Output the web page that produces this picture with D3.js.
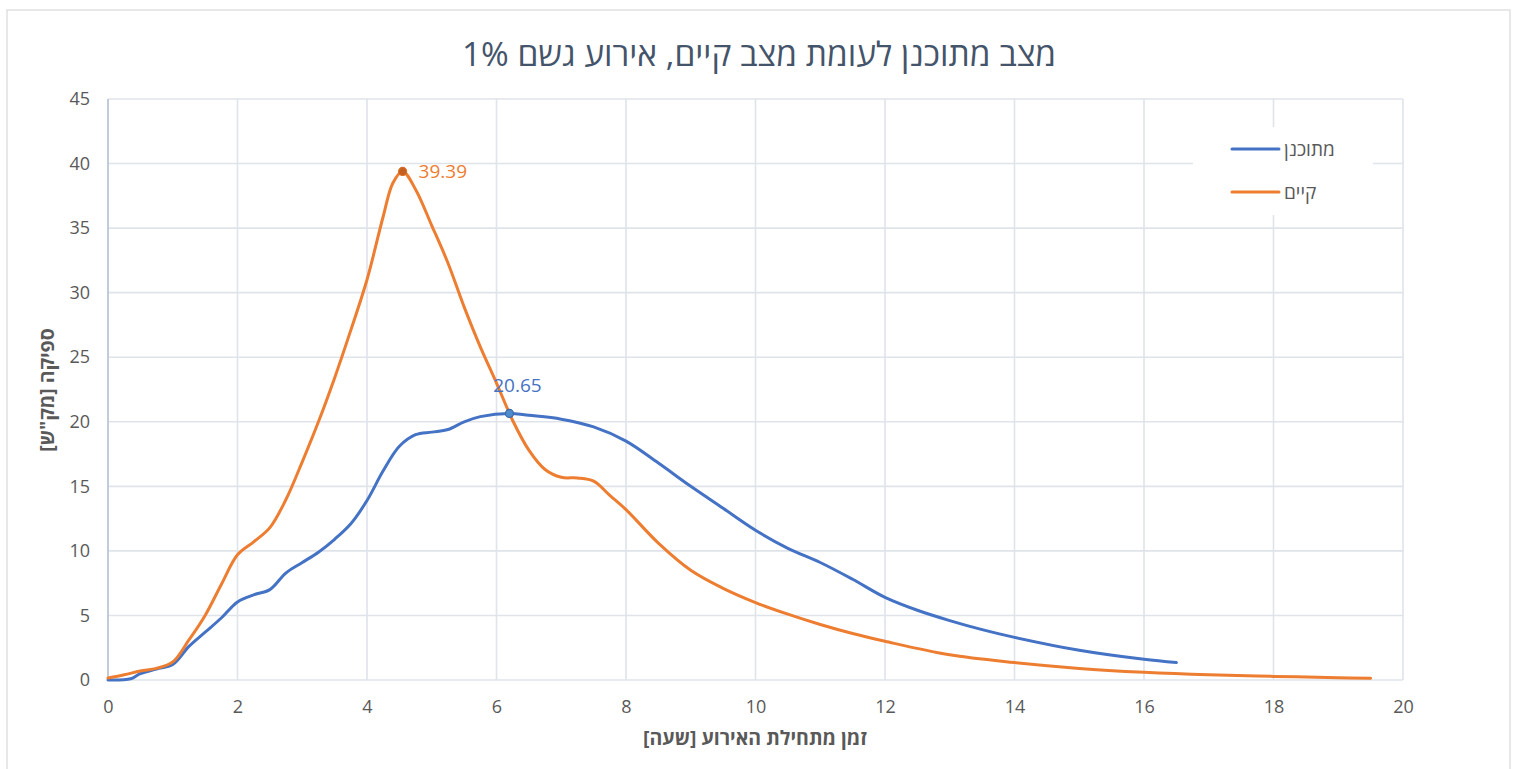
<!DOCTYPE html>
<html lang="he">
<head>
<meta charset="utf-8">
<title>מצב מתוכנן לעומת מצב קיים</title>
<script src="https://cdn.jsdelivr.net/npm/d3@7"></script>
<style>
  html, body { margin: 0; padding: 0; background: #ffffff; }
  svg { display: block; font-family: "Open Sans", "Liberation Sans", "DejaVu Sans", sans-serif; }
</style>
</head>
<body>
<svg id="chart" width="1517" height="769"></svg>
<script>
// Flow hydrograph, 1% rain event: planned vs. existing state
const chartTitle = "מצב מתוכנן לעומת מצב קיים, אירוע גשם 1%";
const xAxisTitle = "זמן מתחילת האירוע [שעה]";
const yAxisTitle = "ספיקה [מק\"ש]";
const seriesNames = ["מתוכנן", "קיים"];

// planned (מתוכנן): hours and discharge
const plannedHours = [0, 0.35, 0.5, 0.75, 1, 1.25, 1.5, 1.75, 2, 2.25, 2.5, 2.75, 3, 3.25, 3.5, 3.75, 4, 4.25, 4.5, 4.75, 5, 5.25, 5.5, 5.75, 6.2, 6.5, 7, 7.5, 8, 8.5, 9, 9.5, 10, 10.5, 11, 11.5, 12, 12.5, 13, 13.5, 14, 15, 16, 16.5];
const plannedFlow  = [0, 0.1, 0.5, 0.85, 1.2, 2.6, 3.7, 4.8, 6.05, 6.6, 7.0, 8.3, 9.1, 9.9, 10.9, 12.1, 13.9, 16.2, 18.1, 19.0, 19.2, 19.4, 20.0, 20.4, 20.65, 20.5, 20.2, 19.6, 18.5, 16.8, 15.0, 13.3, 11.6, 10.2, 9.1, 7.8, 6.4, 5.4, 4.6, 3.9, 3.3, 2.3, 1.6, 1.35];

// existing (קיים): hours and discharge
const existingHours = [0, 0.25, 0.5, 0.75, 1, 1.25, 1.5, 1.75, 2, 2.25, 2.5, 2.75, 3, 3.25, 3.5, 3.75, 4, 4.25, 4.4, 4.55, 4.75, 5, 5.25, 5.5, 5.75, 6, 6.25, 6.5, 6.75, 7, 7.25, 7.5, 7.75, 8, 8.5, 9, 9.5, 10, 10.5, 11, 11.5, 12, 13, 14, 15, 16, 17, 18, 19, 19.5];
const existingFlow  = [0.15, 0.4, 0.7, 0.9, 1.4, 3.1, 5.0, 7.4, 9.7, 10.7, 11.8, 14.0, 16.9, 20.0, 23.4, 27.1, 31.0, 35.9, 38.5, 39.39, 38.0, 35.2, 32.3, 28.9, 25.8, 23.0, 20.1, 17.8, 16.3, 15.7, 15.65, 15.4, 14.3, 13.2, 10.6, 8.5, 7.1, 6.0, 5.1, 4.3, 3.6, 3.0, 1.95, 1.35, 0.9, 0.6, 0.4, 0.28, 0.18, 0.13];

// peak labels
const plannedPeak = { hour: 6.2, flow: 20.65 };
const existingPeak = { hour: 4.55, flow: 39.39 };

const xTicks = [0, 2, 4, 6, 8, 10, 12, 14, 16, 18, 20];
const yTicks = [0, 5, 10, 15, 20, 25, 30, 35, 40, 45];

const colors = { planned: "#4472C4", existing: "#ED7D31" };

const svg = d3.select("#chart");
const plot = { left: 108, right: 1403, top: 99, bottom: 680 };

const x = d3.scaleLinear().domain([0, 20]).range([plot.left, plot.right]);
const y = d3.scaleLinear().domain([0, 45]).range([plot.bottom, plot.top]);

// outer frame
svg.append("rect")
  .attr("x", 7).attr("y", 10).attr("width", 1503).attr("height", 780)
  .attr("fill", "#fff").attr("stroke", "#d9d9d9").attr("stroke-width", 1.2);

// gridlines
const grid = svg.append("g").attr("stroke", "#dfe3ea").attr("stroke-width", 1.6);
grid.selectAll("line.h").data(yTicks).join("line")
  .attr("x1", plot.left).attr("x2", plot.right)
  .attr("y1", d => y(d)).attr("y2", d => y(d));
grid.selectAll("line.v").data(xTicks).join("line")
  .attr("y1", plot.top).attr("y2", plot.bottom)
  .attr("x1", d => x(d)).attr("x2", d => x(d));

// left axis line
svg.append("line")
  .attr("x1", x(0)).attr("x2", x(0)).attr("y1", plot.top).attr("y2", plot.bottom)
  .attr("stroke", "#b9c3d3").attr("stroke-width", 1.6);

// axes (labels only)
const xAxis = svg.append("g")
  .attr("transform", `translate(0,${plot.bottom})`)
  .call(d3.axisBottom(x).tickValues(xTicks).tickSize(0).tickPadding(20));
const yAxis = svg.append("g")
  .attr("transform", `translate(${plot.left},0)`)
  .call(d3.axisLeft(y).tickValues(yTicks).tickSize(0).tickPadding(18));
[xAxis, yAxis].forEach(a => {
  a.select(".domain").remove();
  a.selectAll("text")
    .attr("fill", "#595959")
    .style("font-size", "18px")
    .style("font-family", "\"Open Sans\", \"Liberation Sans\", sans-serif");
});

// title
svg.append("text")
  .attr("x", 759).attr("y", 66)
  .attr("text-anchor", "middle").attr("direction", "rtl")
  .attr("fill", "#44546a")
  .style("font-size", "33.5px")
  .text(chartTitle);

// axis titles
svg.append("text")
  .attr("x", 755).attr("y", 745)
  .attr("text-anchor", "middle").attr("direction", "rtl")
  .attr("fill", "#595959").style("font-weight", "bold").style("font-size", "19.5px")
  .text(xAxisTitle);
svg.append("text")
  .attr("transform", "translate(54,390) rotate(-90)")
  .attr("text-anchor", "middle").attr("direction", "rtl")
  .attr("fill", "#595959").style("font-weight", "bold").style("font-size", "19.5px")
  .text(yAxisTitle);

// series lines
const line = d3.line()
  .x(d => x(d[0])).y(d => y(d[1]))
  .curve(d3.curveCatmullRom.alpha(0.5));

const planned = d3.zip(plannedHours, plannedFlow);
const existing = d3.zip(existingHours, existingFlow);

svg.append("path").datum(planned)
  .attr("d", line).attr("fill", "none")
  .attr("stroke", colors.planned).attr("stroke-width", 3)
  .attr("stroke-linecap", "round").attr("stroke-linejoin", "round");
svg.append("path").datum(existing)
  .attr("d", line).attr("fill", "none")
  .attr("stroke", colors.existing).attr("stroke-width", 3)
  .attr("stroke-linecap", "round").attr("stroke-linejoin", "round");

// peak markers and labels
svg.append("circle")
  .attr("cx", x(existingPeak.hour)).attr("cy", y(existingPeak.flow)).attr("r", 4)
  .attr("fill", "#c4601f").attr("stroke", "#d96c24").attr("stroke-width", 1.2);
svg.append("text")
  .attr("x", x(existingPeak.hour) + 16).attr("y", y(existingPeak.flow) + 7)
  .attr("fill", colors.existing).style("font-size", "19px")
  .text(existingPeak.flow.toFixed(2));

svg.append("circle")
  .attr("cx", x(plannedPeak.hour)).attr("cy", y(plannedPeak.flow)).attr("r", 4)
  .attr("fill", "#4f8ccb").attr("stroke", "#3b68a8").attr("stroke-width", 1.2);
svg.append("text")
  .attr("x", x(plannedPeak.hour) + 8).attr("y", y(plannedPeak.flow) - 21)
  .attr("text-anchor", "middle")
  .attr("fill", colors.planned).style("font-size", "19px")
  .text(plannedPeak.flow.toFixed(2));

// legend
const legend = svg.append("g");
legend.append("rect")
  .attr("x", 1193).attr("y", 127).attr("width", 180).attr("height", 88)
  .attr("fill", "#fff");
const legendItems = [
  { name: seriesNames[0], color: colors.planned, cy: 149 },
  { name: seriesNames[1], color: colors.existing, cy: 192 }
];
legendItems.forEach(item => {
  legend.append("line")
    .attr("x1", 1232).attr("x2", 1279).attr("y1", item.cy).attr("y2", item.cy)
    .attr("stroke", item.color).attr("stroke-width", 3).attr("stroke-linecap", "round");
  legend.append("text")
    .attr("x", 1284).attr("y", item.cy + 7)
    .attr("fill", "#595959").style("font-size", "19px")
    .text(item.name);
});
</script>
</body>
</html>
